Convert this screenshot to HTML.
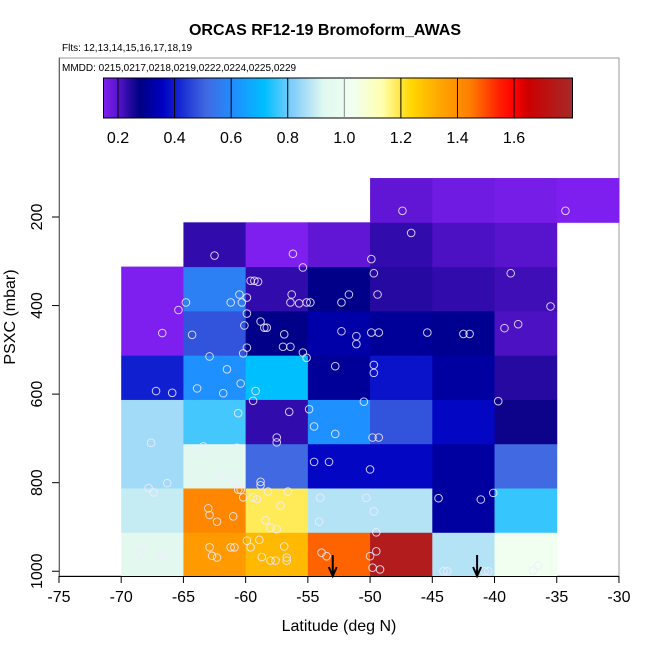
<!DOCTYPE html>
<html><head><meta charset="utf-8"><style>
html,body{margin:0;padding:0;background:#fff}
svg{display:block;font-family:"Liberation Sans",sans-serif}
</style></head><body>
<svg id="chart" width="650" height="650" viewBox="0 0 650 650">
<text x="325" y="35" text-anchor="middle" font-size="16" font-weight="bold">ORCAS RF12-19 Bromoform_AWAS</text>
<text x="62" y="51" font-size="10">Flts: 12,13,14,15,16,17,18,19</text>
<rect x="59" y="58" width="560" height="518" fill="none" stroke="#999" stroke-width="1"/>
<g id="cells"></g>
<g id="points"></g>
<g id="arrows"></g>
<g id="axes"></g>
<text x="62" y="71" font-size="10">MMDD: 0215,0217,0218,0219,0222,0224,0225,0229</text>
<g id="cbar"></g>
<text x="339" y="631" text-anchor="middle" font-size="16">Latitude (deg N)</text>
<text transform="translate(15,317) rotate(-90)" text-anchor="middle" font-size="16">PSXC (mbar)</text>
</svg>
<script>
const latBins = [-70,-65,-60,-55,-50,-45,-40,-35,-30];
const presBins = [1012,912,812,712,612,512,412,312,212,112];
// values[row from bottom][col]; null = empty
const cellValues = [
 [0.92,1.33,1.26,1.43,1.70,0.85,1.00,null],
 [0.87,1.38,1.15,0.85,0.85,0.31,0.74,null],
 [0.83,0.92,0.50,0.36,0.36,0.31,0.50,null],
 [0.83,0.75,0.23,0.60,0.47,0.36,0.26,null],
 [0.40,0.60,0.70,0.30,0.38,0.31,0.24,null],
 [0.15,0.47,0.28,0.32,0.30,0.29,0.21,null],
 [0.15,0.56,0.23,0.28,0.24,0.23,0.22,null],
 [null,0.23,0.15,0.19,0.23,0.21,0.20,null],
 [null,null,null,null,0.19,0.17,0.16,0.15]
];
const pointLat = [-47.4,-34.3,-46.7,-62.5,-56.2,-55.4,-49.9,-49.7,-38.7,-59.6,-59.3,-59.0,-60.5,-59.9,-61.2,-60.3,-64.8,-65.4,-56.3,-56.4,-55.7,-55.1,-54.8,-52.3,-51.7,-49.4,-35.5,-66.7,-64.3,-60.1,-59.9,-58.8,-58.5,-58.3,-56.9,-57.0,-56.4,-59.9,-60.2,-55.4,-52.3,-51.1,-51.1,-49.9,-49.3,-45.4,-42.5,-42.0,-39.2,-38.1,-62.9,-61.5,-60.4,-59.2,-59.4,-55.1,-52.8,-49.7,-49.7,-67.2,-65.9,-63.9,-61.8,-50.5,-39.7,-56.5,-54.9,-60.6,-54.5,-52.8,-49.8,-49.3,-57.5,-57.5,-67.6,-63.4,-60.7,-54.5,-53.3,-50.0,-62.0,-66.3,-67.8,-67.4,-60.9,-60.6,-60.4,-58.8,-58.8,-58.2,-56.6,-60.2,-59.4,-59.1,-57.2,-63.0,-62.9,-62.3,-61.0,-58.4,-58.0,-57.5,-54.0,-54.1,-50.3,-49.7,-44.5,-41.1,-40.1,-49.5,-68.4,-68.5,-66.8,-66.6,-62.9,-62.7,-62.3,-61.2,-60.9,-59.9,-59.6,-58.9,-58.7,-58.0,-57.6,-56.9,-56.7,-56.7,-53.9,-53.5,-50.0,-49.5,-49.8,-49.2,-44.1,-43.8,-40.8,-40.5,-36.9,-36.5];
const pointPres = [186,186,236,287,283,314,295,327,327,344,344,346,375,382,393,393,393,410,375,393,395,393,393,393,375,375,402,462,466,445,418,436,450,450,465,493,493,495,508,506,458,469,487,461,461,461,464,464,451,442,515,544,576,593,615,518,537,534,552,593,597,587,598,617,616,640,634,643,673,690,698,698,698,709,710,718,721,753,753,770,782,801,812,822,797,816,816,798,806,820,820,833,833,837,852,858,873,888,876,885,902,905,834,888,834,865,835,838,823,912,946,960,964,964,946,965,969,946,946,931,946,929,968,976,976,944,969,976,958,966,966,955,992,996,1000,1000,1000,1000,998,987];
const arrowLat = [-53.0,-41.4];
const xTicks = [-75,-70,-65,-60,-55,-50,-45,-40,-35,-30];
const yTicks = [200,400,600,800,1000];
const cbarTicks = [0.2,0.4,0.6,0.8,1.0,1.2,1.4,1.6];

const NS='http://www.w3.org/2000/svg';
function xs(lat){return 121.2+(lat+70)*12.444;}
function ys(p){return 217+(p-200)*0.4428;}
function cx(v){return 118+(v-0.2)*282.9;}
const stops=[[0.15,[127,31,239]],[0.2,[88,20,205]],[0.27,[0,0,128]],[0.35,[0,0,192]],[0.4,[16,32,208]],[0.5,[65,105,225]],[0.6,[30,144,255]],[0.7,[0,191,255]],[0.8,[135,206,250]],[0.9,[224,248,240]],[1.0,[240,255,240]],[1.1,[255,255,176]],[1.2,[255,215,0]],[1.3,[255,165,0]],[1.4,[255,127,0]],[1.5,[255,32,0]],[1.55,[255,0,0]],[1.6,[204,0,0]],[1.75,[165,42,42]]];
function color(v){
  if(v<=stops[0][0])return 'rgb('+stops[0][1]+')';
  for(let i=1;i<stops.length;i++){if(v<=stops[i][0]){const a=stops[i-1],b=stops[i],t=(v-a[0])/(b[0]-a[0]);return 'rgb('+a[1].map((c,k)=>Math.round(c+(b[1][k]-c)*t)).join(',')+')';}}
  return 'rgb('+stops[stops.length-1][1]+')';
}
function mk(tag,attrs,parent){const e=document.createElementNS(NS,tag);for(const k in attrs)e.setAttribute(k,attrs[k]);parent.appendChild(e);return e;}

const gc=document.getElementById('cells');
cellValues.forEach((row,r)=>row.forEach((v,c)=>{
  if(v===null)return;
  const x0=xs(latBins[c]),x1=xs(latBins[c+1]),y0=ys(presBins[r+1]),y1=ys(presBins[r]);
  const e=mk('rect',{x:x0,y:y0,width:x1-x0+0.5,height:y1-y0+0.5,fill:color(v)},gc);
  
  
}));

const gp=document.getElementById('points');
pointLat.forEach((lat,i)=>{
  const e=mk('circle',{cx:xs(lat),cy:ys(pointPres[i]),r:3.8,fill:'none',stroke:'rgba(240,235,255,0.85)','stroke-width':1},gp);
  
  
});

const ga=document.getElementById('arrows');
arrowLat.forEach(lat=>{
  const x=xs(lat);
  const e=mk('path',{d:`M${x},555 L${x},576 M${x-4},567 L${x},576 L${x+4},567`,stroke:'#000','stroke-width':2,fill:'none'},ga);
  
  
});

const gx=document.getElementById('axes');
mk('line',{x1:59,y1:576.5,x2:619,y2:576.5,stroke:'#000'},gx);
mk('line',{x1:59.5,y1:58,x2:59.5,y2:576,stroke:'#666'},gx);
xTicks.forEach(t=>{
  const x=xs(t);
  mk('line',{x1:x,y1:576,x2:x,y2:583,stroke:'#000'},gx);
  const tx=mk('text',{x:x,y:602,'text-anchor':'middle','font-size':16},gx);
  tx.textContent=t;
  
  
});
yTicks.forEach(t=>{
  const y=ys(t);
  mk('line',{x1:52,y1:y,x2:59,y2:y,stroke:'#000'},gx);
  const tx=mk('text',{transform:`translate(42,${y}) rotate(-90)`,'text-anchor':'middle','font-size':16},gx);
  tx.textContent=t;
  
  
});

const gb=document.getElementById('cbar');
const defs=mk('defs',{},gb);
const lg=mk('linearGradient',{id:'cg',x1:0,x2:1,y1:0,y2:0},defs);
for(let i=0;i<=64;i++){const v=0.15+1.6*i/64;mk('stop',{offset:(i/64),'stop-color':color(v)},lg);}
mk('rect',{x:103.5,y:78,width:469,height:40,fill:'url(#cg)',stroke:'#000','stroke-width':1},gb);
cbarTicks.forEach(t=>{
  const x=cx(t);
  mk('line',{x1:x,y1:78,x2:x,y2:118,stroke:t===1.0?'#888':'#000','stroke-width':1},gb);
  const tx=mk('text',{x:x,y:143,'text-anchor':'middle','font-size':16},gb);
  tx.textContent=t.toFixed(1);
  
  
});
</script>
</body></html>
